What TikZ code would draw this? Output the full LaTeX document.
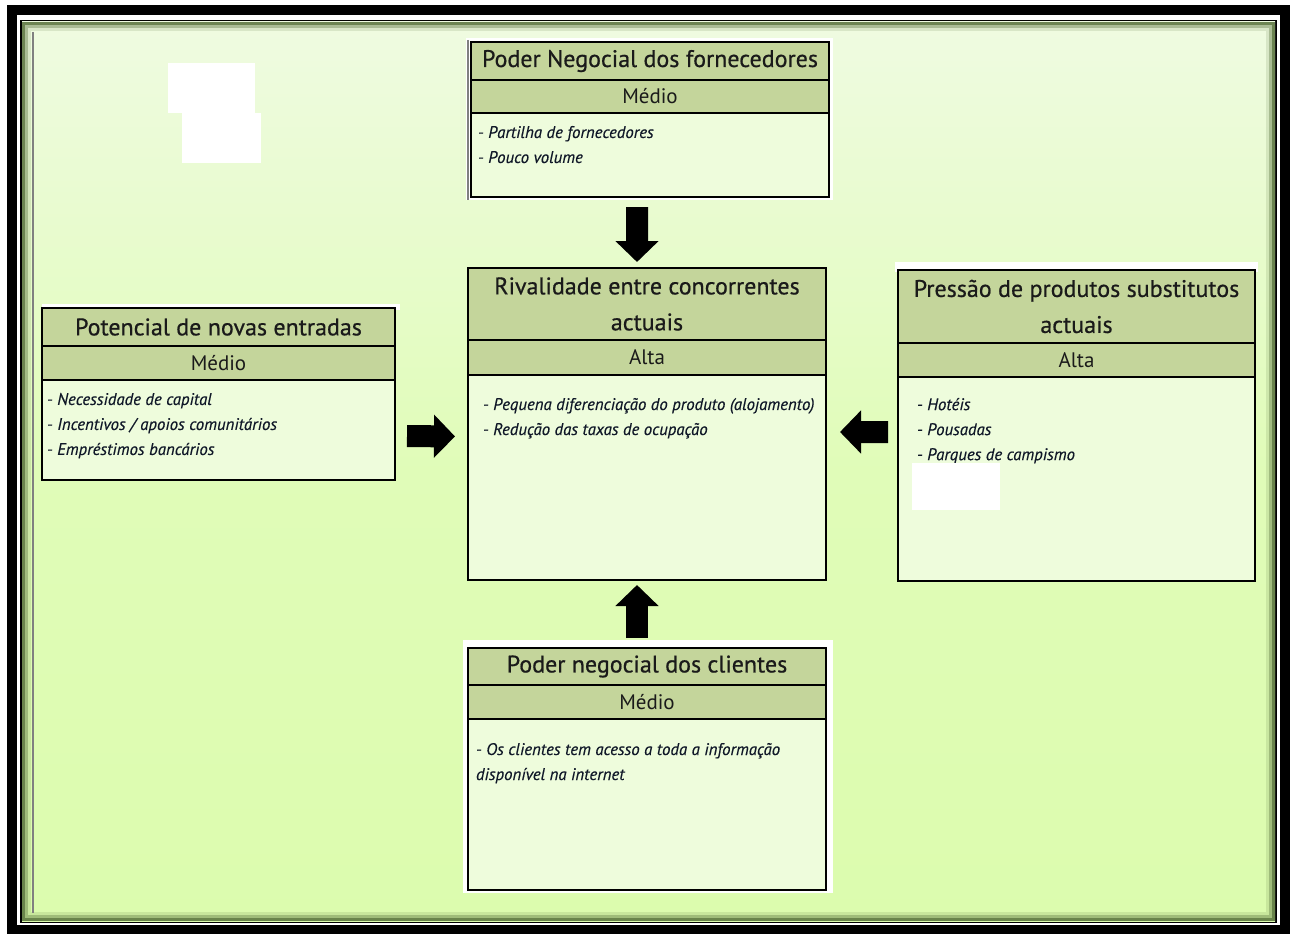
\documentclass[tikz,border=0pt]{standalone}
\usepackage{fontspec}
\setmainfont{PT Sans}
\newfontfamily\bandfont[FakeBold=0.6]{PT Sans}
\newfontfamily\notefont[FakeBold=0.35]{PT Sans}
\usetikzlibrary{arrows.meta}

\definecolor{bandgreen}{HTML}{C4D59B}
\definecolor{bodygreen}{HTML}{EEFCDC}
\definecolor{bgtop}{HTML}{EFFBE1}
\definecolor{bgmid}{HTML}{E0FCB8}
\definecolor{bgbot}{HTML}{DCFCAE}
\definecolor{rimgreen}{HTML}{56703A}
\definecolor{titleink}{HTML}{1A1A1A}
\definecolor{bodyink}{HTML}{101828}

\begin{document}
\begin{tikzpicture}[x=10pt,y=10pt]
	\tikzstyle{every node}+=[inner sep=0pt, outer sep=0pt]
	\tikzstyle{titleband}=[draw=black, line width=1.5pt, fill=bandgreen, anchor=north west, align=center, text=titleink, font=\bandfont\fontsize{24}{36}\selectfont]
	\tikzstyle{levelband}=[draw=black, line width=1.5pt, fill=bandgreen, anchor=north, text=titleink, font=\fontsize{21}{22}\selectfont]
	\tikzstyle{bodypanel}=[draw=black, line width=1.5pt, fill=bodygreen, anchor=north]
	\tikzstyle{bodytext}=[anchor=north west, align=left, text=bodyink, font=\notefont\fontsize{16.8}{25}\selectfont\itshape]
	\tikzstyle{force}=[black, line width=22pt, -{Triangle[width=42pt,length=21pt]}]
	\useasboundingbox (0,0) rectangle (129,-93.4);
	% frame
	\fill [white] (0,0) rectangle (129,-93.4);
	\draw [black, line width=10pt] (1.2,-1.05) rectangle (128.5,-93);
	\draw [black, line width=2pt] (2.1,-2.1) rectangle (127.6,-92.2);
	\shade [top color=bgtop, bottom color=bgbot, middle color=bgmid] (2.2,-2.2) rectangle (127.5,-92.1);
	\draw [rimgreen, line width=3pt, opacity=0.85] (2.35,-2.35) rectangle (127.35,-91.95);
	\draw [rimgreen, line width=3pt, opacity=0.45] (2.65,-2.65) rectangle (127.05,-91.65);
	\draw [rimgreen, line width=3pt, opacity=0.15] (2.95,-2.95) rectangle (126.75,-91.35);
	\draw [gray, line width=1.5pt] (3.3,-3.2) -- (3.3,-91.3);
	% white patches
	\fill [white] (16.8,-6.3) rectangle (25.5,-11.3);
	\fill [white] (18.2,-11.3) rectangle (26.1,-16.3);
	\fill [white] (46.6,-3.8) rectangle (83.3,-20);
	\fill [white] (4.2,-30.4) rectangle (40,-31);
	\fill [white] (89.5,-26.2) rectangle (125.8,-27.2);
	\fill [white] (46.3,-64) rectangle (83.3,-89.3);
	% fornecedores
	\node [titleband, minimum width=358pt, minimum height=38pt] (supT) at (47.1,-4.2) {Poder Negocial dos fornecedores};
	\node [levelband, minimum width=358pt, minimum height=33pt] (supL) at (supT.south) {Médio};
	\node [bodypanel, minimum width=358pt, minimum height=84pt] (supB) at (supL.south) {};
	\node [bodytext] (supTxt) at ([xshift=7pt,yshift=-13pt]supB.north west) {- Partilha de fornecedores\\- Pouco volume};
	\draw [gray, line width=1.5pt] (46.8,-4) -- (46.8,-20);
	% rivalidade
	\node [titleband, minimum width=358pt, minimum height=72pt] (rivT) at (46.8,-26.8) {Rivalidade entre concorrentes\\actuais};
	\node [levelband, minimum width=358pt, minimum height=35pt] (rivL) at (rivT.south) {Alta};
	\node [bodypanel, minimum width=358pt, minimum height=205pt] (rivB) at (rivL.south) {};
	\node [bodytext] (rivTxt) at ([xshift=15pt,yshift=-23pt]rivB.north west) {- Pequena diferenciação do produto (alojamento)\\- Redução das taxas de ocupação};
	% novas entradas
	\node [titleband, minimum width=353pt, minimum height=38pt] (entT) at (4.2,-30.8) {Potencial de novas entradas};
	\node [levelband, minimum width=353pt, minimum height=34pt] (entL) at (entT.south) {Médio};
	\node [bodypanel, minimum width=353pt, minimum height=100pt] (entB) at (entL.south) {};
	\node [bodytext] (entTxt) at ([xshift=5pt,yshift=-13pt]entB.north west) {- Necessidade de capital\\- Incentivos / apoios comunitários\\- Empréstimos bancários};
	% substitutos
	\node [titleband, minimum width=357pt, minimum height=73pt] (subT) at (89.8,-27) {Pressão de produtos substitutos\\actuais};
	\node [levelband, minimum width=357pt, minimum height=34pt] (subL) at (subT.south) {Alta};
	\node [bodypanel, minimum width=357pt, minimum height=204pt] (subB) at (subL.south) {};
	\node [bodytext] (subTxt) at ([xshift=19pt,yshift=-21pt]subB.north west) {- Hotéis\\- Pousadas\\- Parques de campismo};
	\fill [white] (91.2,-46.3) rectangle (100,-51);
	% clientes
	\node [titleband, minimum width=358pt, minimum height=37pt] (cliT) at (46.8,-64.8) {Poder negocial dos clientes};
	\node [levelband, minimum width=358pt, minimum height=34pt] (cliL) at (cliT.south) {Médio};
	\node [bodypanel, minimum width=358pt, minimum height=171pt] (cliB) at (cliL.south) {};
	\node [bodytext] (cliTxt) at ([xshift=8pt,yshift=-24pt]cliB.north west) {- Os clientes tem acesso a toda a informação\\disponível na internet};
	% forces
	\draw [force, shorten <=10pt, shorten >=6pt] ([xshift=-13pt]supB.south) -- ([xshift=-10pt]rivT.north);
	\draw [force, shorten <=12pt, shorten >=13pt] ([yshift=-6pt]entB.east) -- ([yshift=41pt]rivB.west);
	\draw [force, shorten <=10pt, shorten >=14pt] ([yshift=47pt]subB.west) -- ([yshift=45.5pt]rivB.east);
	\draw [force, shorten <=10pt, shorten >=5pt] ([xshift=-10pt]cliT.north) -- ([xshift=-10pt]rivB.south);
\end{tikzpicture}
\end{document}
